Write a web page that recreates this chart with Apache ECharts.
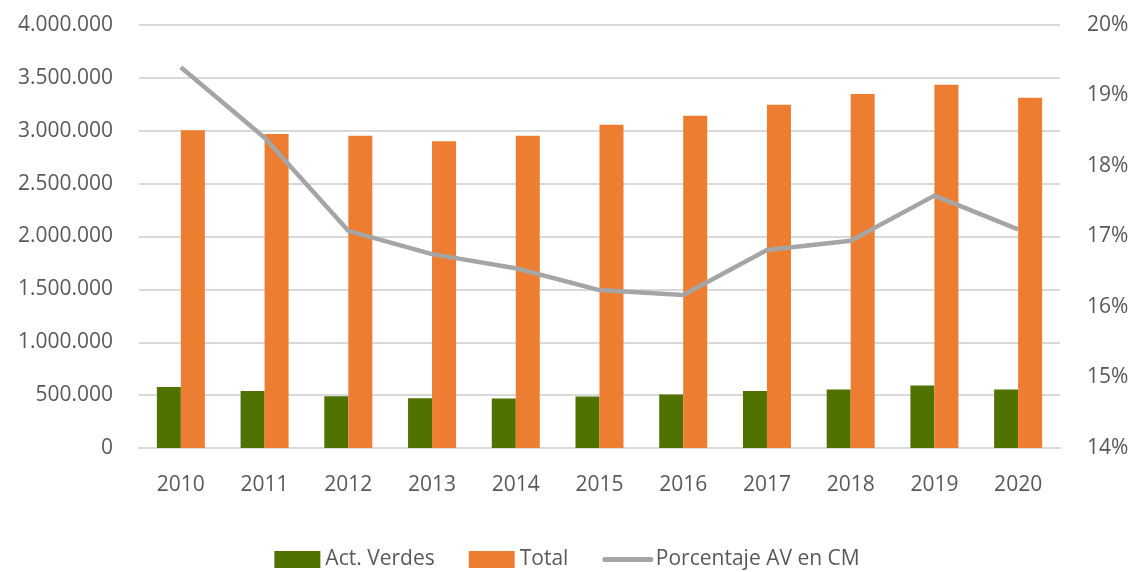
<!DOCTYPE html>
<html>
<head>
<meta charset="utf-8">
<script src="https://cdn.jsdelivr.net/npm/echarts@6/dist/echarts.min.js"></script>
<style>
  html, body { margin: 0; padding: 0; background: #fff; }
  #chart { width: 1134px; height: 572px; }
</style>
</head>
<body>
<div id="chart"></div>
<script>
const years = ['2010', '2011', '2012', '2013', '2014', '2015', '2016', '2017', '2018', '2019', '2020']
const actVerdes = [576000, 540000, 490000, 470000, 468000, 487000, 506000, 538000, 554000, 592000, 554000]
const total = [3005000, 2970000, 2953000, 2900000, 2953000, 3057000, 3142000, 3246000, 3348000, 3436000, 3313000]
const porcentaje = [19.40, 18.40, 17.08, 16.75, 16.55, 16.24, 16.17, 16.81, 16.94, 17.58, 17.10]

const textColor = '#595959'
const font = '"Open Sans", "Noto Sans", sans-serif'

const fmtMiles = (v) => String(Math.round(v)).replace(/\B(?=(\d{3})+(?!\d))/g, '.')

const myChart = echarts.init(document.getElementById('chart'))

const option = {
  animation: false,
  textStyle: { fontFamily: font, color: textColor },
  grid: {
    left: 139,
    right: 74,
    top: 25,
    bottom: 124,
  },
  legend: {
    bottom: -3,
    left: 'center',
    itemWidth: 46,
    itemHeight: 17,
    itemGap: 34,
    textStyle: { fontSize: 21, color: textColor, fontFamily: font },
    data: [
      { name: 'Act. Verdes', icon: 'rect' },
      { name: 'Total', icon: 'rect' },
      { name: 'Porcentaje AV en CM', itemStyle: { opacity: 0 }, lineStyle: { width: 5, cap: 'round' } },
    ],
  },
  xAxis: {
    type: 'category',
    data: years,
    axisTick: { show: false },
    axisLine: { lineStyle: { color: '#d9d9d9', width: 2 } },
    axisLabel: { fontSize: 21, color: textColor, margin: 27 },
  },
  yAxis: [{
    type: 'value',
    min: 0,
    max: 4000000,
    interval: 500000,
    axisLine: { show: false },
    axisTick: { show: false },
    splitLine: { lineStyle: { color: '#d9d9d9', width: 2 } },
    axisLabel: { fontSize: 21, color: textColor, margin: 26, formatter: fmtMiles },
  }, {
    type: 'value',
    min: 14,
    max: 20,
    interval: 1,
    axisLine: { show: false },
    axisTick: { show: false },
    splitLine: { show: false },
    axisLabel: { fontSize: 21, color: textColor, margin: 27, formatter: '{value}%' },
  }],
  series: [{
    name: 'Act. Verdes',
    type: 'bar',
    data: actVerdes,
    barWidth: 24,
    barGap: '0%',
    itemStyle: { color: '#4f7200' },
  }, {
    name: 'Total',
    type: 'bar',
    data: total,
    barWidth: 24,
    barGap: '0%',
    itemStyle: { color: '#ed7d31' },
  }, {
    name: 'Porcentaje AV en CM',
    type: 'line',
    yAxisIndex: 1,
    data: porcentaje,
    symbol: 'none',
    lineStyle: { color: '#a5a5a5', width: 4.5 },
    itemStyle: { color: '#a5a5a5' },
  }],
}

myChart.setOption(option)
</script>
</body>
</html>
